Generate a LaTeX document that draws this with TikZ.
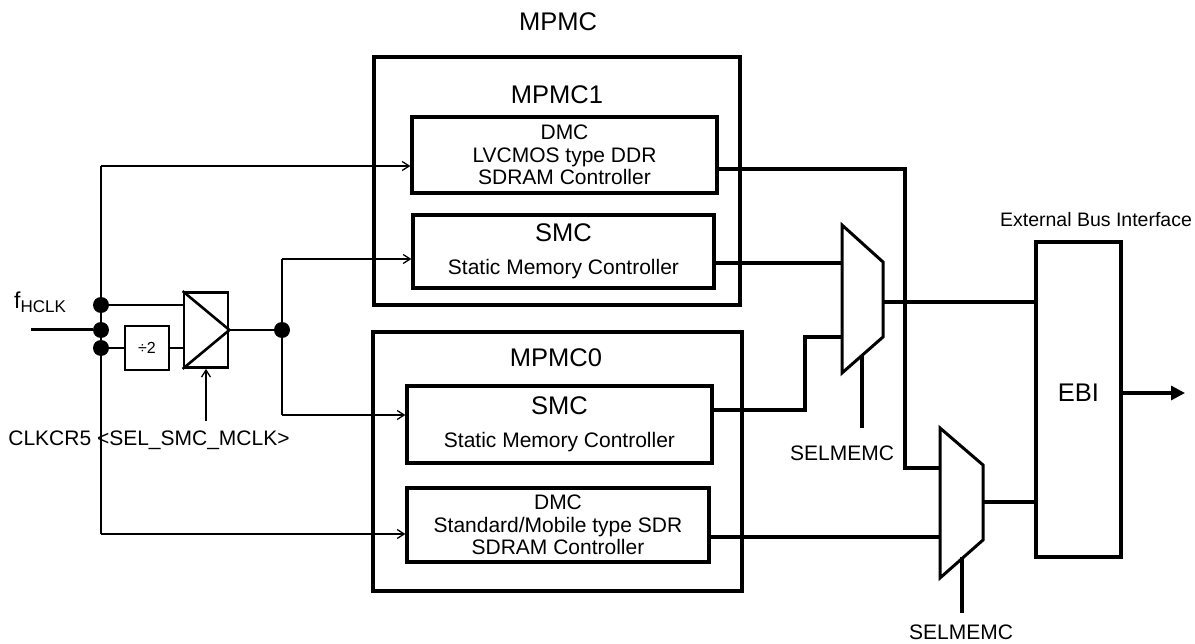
\documentclass[tikz,border=0pt]{standalone}
\usepackage{fontspec}
\setmainfont{Liberation Sans}
\usetikzlibrary{arrows.meta,calc}
\begin{document}
\begin{tikzpicture}[x=1pt,y=-1pt,
  box/.style={draw,line width=3.3pt,inner sep=0pt,align=center},
  blk/.style={box,fill=white},
  thinln/.style={line width=1.7pt},
  thickln/.style={line width=3.2pt},
  inarrow/.style={thinln,-{Straight Barb[length=7pt,width=9pt,line width=1.3pt]}},
  dot/.style={circle,fill=black,inner sep=0pt,minimum size=16pt},
  txt/.style={font=\fontsize{21}{22.5}\selectfont,align=center,inner sep=0pt},
  big/.style={font=\fontsize{25.5}{28}\selectfont,inner sep=0pt}
]
\useasboundingbox[fill=white] (0,0) rectangle (1195,644);

% outer boxes
\node[box,minimum width=366pt,minimum height=248pt] (mpmc1) at (557,181) {};
\node[box,minimum width=369pt,minimum height=259pt] (mpmc0) at (557.5,461.5) {};
\node[big] (t) at (558,22) {MPMC};
\node[big] (t1) at (557,95) {MPMC1};
\node[big] (t0) at (556,358) {MPMC0};

% inner boxes
\node[box,txt,minimum width=305pt,minimum height=76pt] (dmc1) at (564.5,155)
  {DMC\\LVCMOS type DDR\\SDRAM Controller};
\node[box,minimum width=301pt,minimum height=73pt,align=center,
  font=\fontsize{21}{33}\selectfont] (smc1) at (563.5,251.5)
  {{\fontsize{25.5}{33}\selectfont SMC}\\Static Memory Controller};
\node[box,minimum width=305pt,minimum height=77pt,align=center,
  font=\fontsize{21}{33}\selectfont] (smc0) at (559.5,424.5)
  {{\fontsize{25.5}{33}\selectfont SMC}\\Static Memory Controller};
\node[box,txt,minimum width=302pt,minimum height=74pt] (dmc0) at (558,525)
  {DMC\\Standard/Mobile type SDR\\SDRAM Controller};

% EBI
\node[box,minimum width=85pt,minimum height=315pt] (ebi) at (1078.5,399.5) {};
\node[big] (ebit) at (1078.5,393) {EBI};
\node[font=\fontsize{19.5}{21}\selectfont,inner sep=0pt] (ebil) at (1096,220) {External Bus Interface};

% clock section
\node[box,line width=2.8pt,minimum width=44pt,minimum height=44pt,
  font=\fontsize{16}{18}\selectfont] (div2) at (147,348) {\char"F7 2};
\node[box,line width=2.8pt,minimum width=44pt,minimum height=75pt] (sel) at (206,330) {};
\draw[line width=2.6pt] (sel.north west) -- (sel.east) -- (sel.south west);

\node[dot] (d1) at (101,305) {};
\node[dot] (d2) at (101,330) {};
\node[dot] (d3) at (101,348) {};
\node[dot] (d4) at (282,330) {};

\node[inner sep=0pt,anchor=base west] (fh) at (14,309)
  {\fontsize{23}{24}\selectfont f\raisebox{-4pt}{\fontsize{17}{18}\selectfont HCLK}};
\node[txt,anchor=base] (clk) at (149,446) {CLKCR5 <SEL\_SMC\_MCLK>};

\coordinate (clkin) at (31,330);
\coordinate (vtop) at (101,166);
\coordinate (vbot) at (101,534);
\coordinate (a1) at (282,259);
\coordinate (a0) at (282,415);
\coordinate (cs) at (206,421);

\draw[line width=3pt] (clkin) -- (d2);
\draw[thinln] (vtop) -- (vbot);
\draw[inarrow] (vtop) -- (vtop -| dmc1.west);
\draw[inarrow] (vbot) -- (vbot -| dmc0.west);
\draw[thinln] (d1) -- (d1 -| sel.west);
\draw[thinln] (d3) -- (div2.west);
\draw[thinln] (div2.east) -- (div2.east -| sel.west);
\draw[thinln] (sel.east) -- (d4);
\draw[thinln] (d4) -- (a1);
\draw[inarrow] (a1) -- (a1 -| smc1.west);
\draw[thinln] (d4) -- (a0);
\draw[inarrow] (a0) -- (a0 -| smc0.west);
\draw[inarrow] (cs) -- (sel.south);

% multiplexers
\coordinate (m1tl) at (842,225); \coordinate (m1tr) at (883,262);
\coordinate (m1br) at (883,337); \coordinate (m1bl) at (842,373);
\coordinate (m2tl) at (940,428); \coordinate (m2tr) at (983,465);
\coordinate (m2br) at (983,540); \coordinate (m2bl) at (940,578);
\draw[line width=3pt,line join=miter] (m1tl) -- (m1tr) -- (m1br) -- (m1bl) -- cycle;
\draw[line width=3pt,line join=miter] (m2tl) -- (m2tr) -- (m2br) -- (m2bl) -- cycle;

\coordinate (m1a) at (842,263); \coordinate (m1b) at (842,337);
\coordinate (m1o) at (883,302); \coordinate (m1s) at (862,356);
\coordinate (m2a) at (940,468); \coordinate (m2b) at (940,537);
\coordinate (m2o) at (983,502); \coordinate (m2s) at (962,557);
\coordinate (s1e) at (862,428); \coordinate (s2e) at (962,613);
\coordinate (j1) at (905,169); \coordinate (j2) at (805,410);
\coordinate (out) at (1185,393);

\draw[thickln] ([yshift=-14pt]dmc1.east) -- (j1) |- (m2a);
\draw[thickln] (m1a -| smc1.east) -- (m1a);
\draw[thickln] (j2 -| smc0.east) -- (j2) |- (m1b);
\draw[thickln] (m2b -| dmc0.east) -- (m2b);
\draw[thickln] (m1o) -- (m1o -| ebi.west);
\draw[thickln] (m2o) -- (m2o -| ebi.west);
\draw[thickln] (m1s) -- (s1e);
\draw[thickln] (m2s) -- (s2e);
\draw[thickln,-{Triangle[length=14pt,width=14pt]}] (out -| ebi.east) -- (out);

\node[txt] (sl1) at (842,453) {SELMEMC};
\node[txt] (sl2) at (961,632) {SELMEMC};
\end{tikzpicture}
\end{document}
